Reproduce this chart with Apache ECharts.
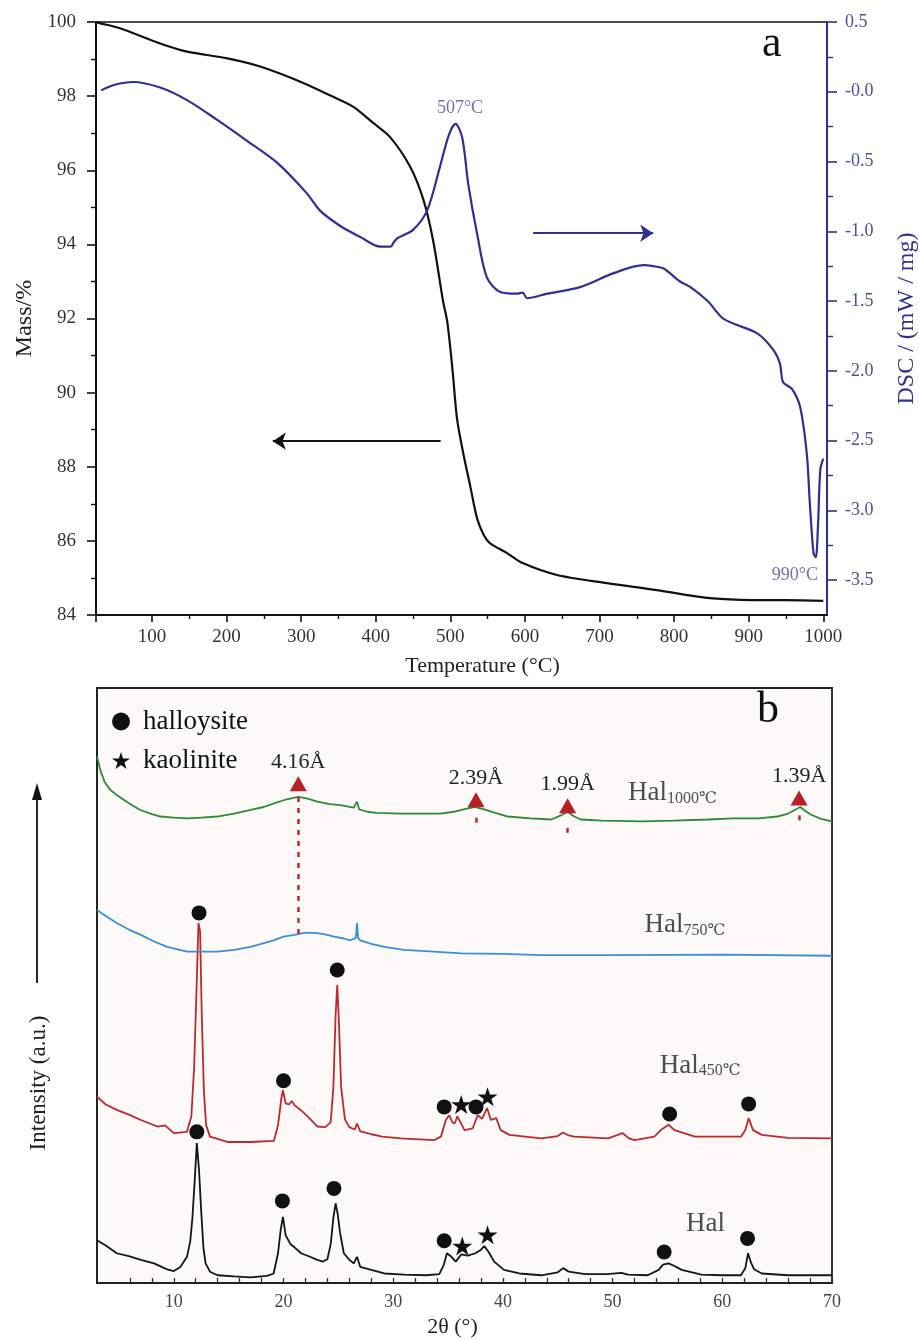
<!DOCTYPE html>
<html>
<head>
<meta charset="utf-8">
<title>TG-DSC and XRD of halloysite</title>
<script src="https://cdn.jsdelivr.net/npm/echarts@6/dist/echarts.min.js"></script>
<style>
  html, body { margin: 0; padding: 0; background: #fff; }
  #chart { width: 919px; height: 1339px; }
</style>
</head>
<body>
<div id="chart"></div>
<script>
const serif = '"Liberation Serif", "DejaVu Serif", serif'

// ---- panel a : TG / DSC ----
const tgTemp = [25, 30, 57, 111, 147, 201, 245, 299, 343, 370, 397, 419, 446, 464, 477, 490, 496, 503, 509, 517, 527, 536, 545, 553, 576, 597, 643, 710, 777, 844, 889, 950, 1000]
const tgMass = [100, 99.97, 99.83, 99.42, 99.2, 99.02, 98.8, 98.39, 97.98, 97.71, 97.27, 96.9, 96.1, 95.2, 94.1, 92.5, 91.9, 90.6, 89.3, 88.4, 87.45, 86.6, 86.15, 85.94, 85.67, 85.4, 85.08, 84.86, 84.67, 84.46, 84.41, 84.4, 84.38]

const dscTemp = [32, 50, 75, 111, 147, 187, 227, 268, 308, 325, 352, 379, 406, 420, 424, 429, 450, 469, 486, 498, 507, 516, 524, 536, 549, 567, 589, 597, 603, 630, 674, 719, 759, 772, 786, 808, 822, 845, 867, 911, 933, 942, 946, 958, 969, 978, 982, 987, 990, 993, 996, 1000]
const dscVal = [0.01, 0.05, 0.07, 0.03, -0.06, -0.2, -0.35, -0.51, -0.73, -0.85, -0.96, -1.04, -1.11, -1.11, -1.08, -1.05, -0.99, -0.85, -0.54, -0.31, -0.23, -0.33, -0.66, -1.02, -1.33, -1.435, -1.447, -1.44, -1.48, -1.447, -1.4, -1.3, -1.243, -1.25, -1.267, -1.36, -1.4, -1.5, -1.63, -1.73, -1.85, -1.95, -2.08, -2.13, -2.26, -2.6, -2.95, -3.31, -3.335, -3.1, -2.71, -2.63]

const tempTicks = [25, 100, 200, 300, 400, 500, 600, 700, 800, 900, 1000]
const tempLabels = [100, 200, 300, 400, 500, 600, 700, 800, 900, 1000]
const tempMinor = [150, 250, 350, 450, 550, 650, 750, 850, 950]
const dscTicks = [-3.5, -3, -2.5, -2, -1.5, -1, -0.5, 0, 0.5]
const dscMinor = [-3.25, -2.75, -2.25, -1.75, -1.25, -0.75, -0.25, 0.25]

const peakNotes = [[513, -0.117, '507°C'], [962, -3.467, '990°C']]

// ---- panel b : XRD ----
const halX = [3.0, 3.8, 4.8, 5.9, 7.0, 8.2, 9.4, 10.0, 10.6, 11.2, 11.5, 11.7, 11.9, 12.1, 12.3, 12.5, 12.7, 12.9, 13.3, 14.0, 15.5, 17.0, 18.5, 19.1, 19.5, 19.75, 19.95, 20.2, 20.65, 21.0, 21.6, 22.3, 23.1, 23.6, 24.0, 24.3, 24.55, 24.75, 24.95, 25.15, 25.5, 26.0, 26.4, 26.7, 27.0, 28.0, 29.2, 31.0, 33.0, 34.2, 34.6, 34.9, 35.25, 35.7, 36.2, 36.8, 37.5, 38.0, 38.3, 38.7, 39.2, 40.1, 41.5, 43.5, 45.0, 45.5, 46.0, 47.5, 49.5, 50.8, 51.4, 53.2, 54.2, 54.6, 55.1, 55.6, 56.3, 58.1, 60.0, 61.7, 62.1, 62.35, 62.6, 62.9, 63.6, 66.0, 68.0, 70.0]
const halY = [7.2, 6.3, 5.0, 4.5, 3.9, 3.3, 2.3, 2.0, 2.7, 4.4, 7.0, 11.0, 17.0, 23.5, 19.0, 12.0, 6.0, 3.3, 1.9, 1.3, 1.1, 0.95, 1.2, 1.6, 5.0, 9.0, 11.1, 8.0, 6.5, 6.0, 5.0, 4.5, 3.9, 3.6, 4.0, 6.5, 11.0, 13.4, 11.5, 8.5, 5.0, 3.9, 3.3, 4.4, 2.7, 2.2, 1.6, 1.4, 1.3, 1.5, 3.0, 5.0, 4.5, 3.6, 4.8, 4.6, 5.0, 5.6, 6.2, 5.2, 3.6, 2.2, 1.6, 1.3, 1.8, 2.5, 1.9, 1.5, 1.5, 1.7, 1.4, 1.3, 2.2, 3.1, 3.3, 2.9, 2.2, 1.4, 1.3, 1.3, 2.5, 5.0, 3.5, 2.3, 1.6, 1.3, 1.3, 1.3]

const hal450X = [3.0, 3.8, 4.8, 5.9, 7.0, 8.5, 9.2, 10.0, 11.2, 11.6, 11.85, 12.05, 12.25, 12.4, 12.55, 12.75, 12.95, 13.3, 14.9, 17.0, 19.13, 19.5, 19.8, 19.95, 20.2, 20.5, 20.75, 21.0, 21.6, 22.2, 23.1, 23.8, 24.3, 24.55, 24.75, 24.9, 25.05, 25.25, 25.6, 26.0, 26.5, 26.7, 27.0, 27.65, 28.0, 29.0, 30.7, 33.7, 34.35, 34.8, 35.1, 35.4, 35.6, 35.85, 36.0, 36.5, 37.25, 37.7, 38.1, 38.56, 38.9, 39.4, 39.8, 40.6, 43.5, 45.0, 45.47, 46.0, 46.5, 49.6, 50.9, 51.5, 52.0, 53.8, 54.4, 55.1, 55.65, 57.5, 61.7, 62.1, 62.4, 62.8, 63.6, 66.0, 70.0]
const hal450Y = [31.3, 30.0, 29.1, 28.3, 27.4, 26.3, 26.5, 25.2, 25.4, 28.0, 36.0, 48.0, 60.5, 59.0, 45.0, 32.0, 26.5, 24.6, 23.7, 23.7, 23.9, 26.5, 31.0, 32.4, 30.2, 30.0, 30.6, 29.9, 29.0, 28.0, 26.3, 26.2, 27.0, 33.0, 45.0, 50.1, 44.0, 33.0, 27.5, 26.2, 25.8, 26.8, 25.5, 25.2, 25.0, 24.6, 24.3, 24.0, 24.6, 27.4, 28.2, 27.0, 26.8, 28.0, 28.2, 25.7, 26.0, 28.2, 27.6, 29.4, 27.4, 27.7, 25.7, 24.9, 24.3, 24.7, 25.3, 24.8, 24.6, 24.3, 25.2, 24.3, 24.0, 24.6, 25.7, 26.6, 25.7, 24.6, 24.6, 25.7, 27.7, 25.7, 24.9, 24.4, 24.3]

const hal750X = [3.0, 3.8, 4.8, 5.9, 7.0, 8.2, 9.4, 11.2, 13.96, 15.5, 17.0, 19.1, 20.0, 21.0, 22.0, 23.1, 24.0, 24.6, 25.5, 26.1, 26.6, 26.7, 26.8, 27.0, 28.0, 29.2, 31.0, 33.7, 36.2, 40.0, 43.5, 50.0, 60.0, 70.0]
const hal750Y = [62.7, 61.7, 60.5, 59.4, 58.5, 57.4, 56.5, 55.7, 55.7, 56.0, 56.5, 57.6, 58.2, 58.5, 58.9, 58.8, 58.5, 58.2, 57.9, 57.6, 58.0, 60.5, 58.0, 57.6, 57.0, 56.5, 56.0, 55.7, 55.4, 55.3, 55.1, 55.1, 55.2, 55.0]

const hal1000X = [3.0, 3.3, 3.7, 4.2, 4.8, 5.43, 6.2, 6.95, 8.0, 8.8, 10.0, 11.2, 12.5, 13.96, 15.5, 17.0, 18.2, 19.13, 20.3, 21.35, 22.2, 23.1, 24.2, 25.2, 26.4, 26.7, 26.9, 27.65, 28.5, 30.7, 34.3, 35.5, 36.6, 37.4, 38.3, 39.3, 40.45, 42.5, 44.4, 45.3, 45.9, 46.5, 47.1, 49.0, 52.6, 55.5, 58.7, 61.0, 63.3, 65.0, 66.0, 66.6, 67.1, 67.6, 68.1, 69.0, 70.0]
const hal1000Y = [88.5, 86.2, 84.2, 82.9, 82.0, 81.2, 80.3, 79.5, 78.8, 78.4, 78.2, 78.1, 78.2, 78.4, 78.9, 79.5, 80.0, 80.6, 81.3, 81.7, 81.4, 80.9, 80.5, 80.3, 79.9, 80.9, 79.6, 79.2, 79.0, 78.9, 78.9, 79.2, 79.7, 80.0, 79.6, 79.0, 78.4, 78.1, 77.9, 78.6, 79.2, 78.4, 77.9, 77.7, 77.6, 77.7, 77.9, 78.1, 78.1, 78.4, 78.9, 79.5, 80.0, 79.3, 78.7, 78.0, 77.6]

// phase markers [2θ, height]
const halloysiteDots = [[12.1, 25.4], [19.9, 13.8], [24.6, 15.9], [34.65, 7.1], [54.7, 5.2], [62.3, 7.5],
  [12.3, 62.2], [20.0, 34.0], [24.9, 52.6], [34.65, 29.6], [37.55, 29.6], [55.2, 28.4], [62.4, 30.1]]
const kaoliniteStars = [[36.3, 6.2], [38.6, 8.1], [36.2, 30.0], [38.6, 31.3]]
const dSpacing = [[21.35, 83.9, '4.16Å'], [37.55, 81.2, '2.39Å'], [45.9, 80.2, '1.99Å'], [67.0, 81.5, '1.39Å']]
const dropLines = [[21.35, 81.7, 58.5], [37.55, 78.2, 76.5], [45.9, 76.5, 74.8], [67.0, 78.6, 76.8]]
const sampleNames = [[51.4, 82.35, '1000℃'], [52.9, 60.1, '750℃'], [54.3, 36.55, '450℃'], [56.7, 9.9, '']]

const xrdTicks = [6, 8, 10, 12, 14, 16, 18, 20, 22, 24, 26, 28, 30, 32, 34, 36, 38, 40, 42, 44, 46, 48, 50, 52, 54, 56, 58, 60, 62, 64, 66, 68, 70]
const xrdLabels = [10, 20, 30, 40, 50, 60, 70]

const zip = (xs, ys) => xs.map((x, i) => [x, ys[i]])
const starPath = 'path://M50 0 L61.2 34.5 L97.6 34.5 L68.2 55.9 L79.4 90.5 L50 69.1 L20.6 90.5 L31.8 55.9 L2.4 34.5 L38.8 34.5 Z'
const navy = '#2e3192'
const navyText = '#4b4f9e'

const chart = echarts.init(document.getElementById('chart'), null, { renderer: 'canvas' })

chart.setOption({
  animation: false,
  backgroundColor: '#fff',
  textStyle: { fontFamily: serif },
  grid: [
    { left: 96, top: 22, width: 731, height: 593, outerBoundsMode: 'none', show: true, borderColor: '#111', borderWidth: 1.6, backgroundColor: '#fff' },
    { left: 97, top: 688, width: 735, height: 595, outerBoundsMode: 'none', show: true, borderColor: '#222', borderWidth: 1.8, backgroundColor: '#fcf9f8' }
  ],
  legend: {
    data: ['halloysite', 'kaolinite'],
    orient: 'vertical',
    left: 107,
    top: 703,
    itemWidth: 18,
    itemHeight: 18,
    itemGap: 12,
    textStyle: { fontFamily: serif, fontSize: 27, color: '#111', padding: [0, 0, 0, 8] }
  },
  xAxis: [{
    gridIndex: 0,
    type: 'value',
    position: 'bottom',
    min: 25,
    max: 1005,
    name: 'Temperature (°C)',
    nameLocation: 'middle',
    nameGap: 40,
    nameTextStyle: { fontFamily: serif, fontSize: 22, color: '#222', padding: [0, 0, 0, 42] },
    axisLine: { onZero: false, lineStyle: { color: '#111', width: 2 } },
    axisTick: { customValues: tempTicks, length: 7, lineStyle: { color: '#111', width: 1.6 } },
    axisLabel: { customValues: tempLabels, margin: 13, fontSize: 19, color: '#333', fontFamily: serif, formatter: v => String(v) },
    splitLine: { show: false }
  }, {
    gridIndex: 0,
    type: 'value',
    position: 'bottom',
    min: 25,
    max: 1005,
    axisLine: { show: false, onZero: false },
    axisTick: { customValues: tempMinor, length: 4, lineStyle: { color: '#111', width: 1.4 } },
    axisLabel: { show: false },
    splitLine: { show: false }
  }, {
    gridIndex: 1,
    type: 'value',
    position: 'bottom',
    min: 3,
    max: 70,
    name: '2θ (°)',
    nameLocation: 'middle',
    nameGap: 33,
    nameTextStyle: { fontFamily: serif, fontSize: 22, color: '#222', padding: [0, 24, 0, 0] },
    axisLine: { onZero: false, lineStyle: { color: '#222', width: 1.8 } },
    axisTick: { customValues: xrdTicks, inside: true, length: 5, lineStyle: { color: '#333', width: 1.3 } },
    axisLabel: { customValues: xrdLabels, margin: 10, fontSize: 18, color: '#444', fontFamily: serif },
    splitLine: { show: false }
  }],
  yAxis: [{
    gridIndex: 0,
    type: 'value',
    position: 'left',
    min: 84,
    max: 100,
    interval: 2,
    name: 'Mass/%',
    nameLocation: 'middle',
    nameGap: 58,
    nameTextStyle: { fontFamily: serif, fontSize: 24, color: '#222' },
    axisLine: { onZero: false, lineStyle: { color: '#111', width: 2 } },
    axisTick: { length: 9, lineStyle: { color: '#111', width: 1.6 } },
    minorTick: { show: true, splitNumber: 2, length: 5, lineStyle: { color: '#111', width: 1.4 } },
    axisLabel: { margin: 20, fontSize: 19, color: '#333', fontFamily: serif },
    splitLine: { show: false }
  }, {
    gridIndex: 0,
    type: 'value',
    position: 'right',
    min: -3.75,
    max: 0.5,
    name: 'DSC / (mW / mg)',
    nameLocation: 'middle',
    nameGap: 68,
    nameTextStyle: { fontFamily: serif, fontSize: 24, color: navy },
    axisLine: { onZero: false, lineStyle: { color: navy, width: 2 } },
    axisTick: { customValues: dscTicks, length: 10, lineStyle: { color: navy, width: 1.6 } },
    axisLabel: {
      customValues: dscTicks,
      margin: 18,
      fontSize: 18,
      color: navyText,
      fontFamily: serif,
      formatter: v => (Math.abs(v) < 1e-9 ? '-0.0' : v.toFixed(1))
    },
    splitLine: { show: false }
  }, {
    gridIndex: 0,
    type: 'value',
    position: 'right',
    min: -3.75,
    max: 0.5,
    axisLine: { show: false, onZero: false },
    axisTick: { customValues: dscMinor, length: 6, lineStyle: { color: navy, width: 1.4 } },
    axisLabel: { show: false },
    splitLine: { show: false }
  }, {
    gridIndex: 1,
    type: 'value',
    min: 0,
    max: 100,
    axisLine: { show: true, onZero: false, lineStyle: { color: '#222', width: 1.8 } },
    axisTick: { show: false },
    axisLabel: { show: false },
    splitLine: { show: false }
  }],
  series: [{
    name: 'TG',
    type: 'line',
    xAxisIndex: 0,
    yAxisIndex: 0,
    data: zip(tgTemp, tgMass),
    showSymbol: false,
    smooth: 0.3,
    lineStyle: { color: '#111', width: 2.2 },
    markLine: {
      silent: true,
      symbol: ['none', 'arrow'],
      symbolSize: 13,
      label: { show: false },
      lineStyle: { color: '#111', width: 1.8, type: 'solid' },
      data: [[{ coord: [487, 88.69] }, { coord: [262, 88.69] }]]
    }
  }, {
    name: 'DSC',
    type: 'line',
    xAxisIndex: 0,
    yAxisIndex: 1,
    data: zip(dscTemp, dscVal),
    showSymbol: false,
    smooth: 0.3,
    lineStyle: { color: navy, width: 2.2 },
    markLine: {
      silent: true,
      symbol: ['none', 'arrow'],
      symbolSize: 13,
      label: { show: false },
      lineStyle: { color: navy, width: 1.8, type: 'solid' },
      data: [[{ coord: [611, -1.014] }, { coord: [772, -1.014] }]]
    }
  }, {
    name: 'peaks',
    type: 'scatter',
    xAxisIndex: 0,
    yAxisIndex: 1,
    data: peakNotes,
    symbolSize: 0,
    silent: true,
    label: { show: true, position: 'inside', formatter: p => p.data[2], fontSize: 18, color: navyText, fontFamily: serif }
  }, {
    name: 'Hal',
    type: 'line',
    xAxisIndex: 2,
    yAxisIndex: 3,
    data: zip(halX, halY),
    showSymbol: false,
    lineStyle: { color: '#151515', width: 1.8 }
  }, {
    name: 'Hal450',
    type: 'line',
    xAxisIndex: 2,
    yAxisIndex: 3,
    data: zip(hal450X, hal450Y),
    showSymbol: false,
    lineStyle: { color: '#bd2a2e', width: 1.8 }
  }, {
    name: 'Hal750',
    type: 'line',
    xAxisIndex: 2,
    yAxisIndex: 3,
    data: zip(hal750X, hal750Y),
    showSymbol: false,
    lineStyle: { color: '#3a8edb', width: 1.8 }
  }, {
    name: 'Hal1000',
    type: 'line',
    xAxisIndex: 2,
    yAxisIndex: 3,
    data: zip(hal1000X, hal1000Y),
    showSymbol: false,
    lineStyle: { color: '#2f8a37', width: 1.8 }
  }, {
    name: 'halloysite',
    type: 'scatter',
    xAxisIndex: 2,
    yAxisIndex: 3,
    data: halloysiteDots,
    symbol: 'circle',
    symbolSize: 15,
    itemStyle: { color: '#111', opacity: 1 },
    z: 5
  }, {
    name: 'kaolinite',
    type: 'scatter',
    xAxisIndex: 2,
    yAxisIndex: 3,
    data: kaoliniteStars,
    symbol: starPath,
    symbolKeepAspect: true,
    symbolSize: 20,
    itemStyle: { color: '#111', opacity: 1 },
    z: 5
  }, {
    name: 'd-spacing',
    type: 'scatter',
    xAxisIndex: 2,
    yAxisIndex: 3,
    data: dSpacing,
    symbol: 'triangle',
    symbolSize: [17, 15],
    itemStyle: { color: '#b81f26', opacity: 1 },
    label: { show: true, position: 'top', distance: 3, formatter: p => p.data[2], fontSize: 22, color: '#222', fontFamily: serif },
    markLine: {
      silent: true,
      symbol: ['none', 'none'],
      label: { show: false },
      lineStyle: { color: '#c0282b', width: 2.5, type: [5, 6] },
      data: dropLines.map(d => [{ coord: [d[0], d[1]] }, { coord: [d[0], d[2]] }])
    },
    z: 5
  }, {
    name: 'samples',
    type: 'scatter',
    xAxisIndex: 2,
    yAxisIndex: 3,
    data: sampleNames,
    symbolSize: 0,
    silent: true,
    label: {
      show: true,
      position: 'right',
      distance: 0,
      formatter: p => (p.data[2] ? '{a|Hal}{s|' + p.data[2] + '}' : '{a|Hal}'),
      rich: {
        a: { fontFamily: serif, fontSize: 27, lineHeight: 27, verticalAlign: 'top', color: '#222' },
        s: { fontFamily: serif, fontSize: 16, lineHeight: 16, padding: [17, 0, 0, 0], verticalAlign: 'bottom', color: '#222' }
      }
    }
  }],
  graphic: [
    { type: 'text', left: 762, top: 22, style: { text: 'a', font: '44px ' + serif, fill: '#111' } },
    { type: 'text', left: 757, top: 688, style: { text: 'b', font: '44px ' + serif, fill: '#111' } },
    {
      type: 'text',
      x: 39,
      y: 1083,
      rotation: Math.PI / 2,
      style: { text: 'Intensity (a.u.)', font: '23px ' + serif, fill: '#222', align: 'center', verticalAlign: 'middle' }
    },
    { type: 'line', shape: { x1: 37, y1: 983, x2: 37, y2: 798 }, style: { stroke: '#111', lineWidth: 1.8 } },
    { type: 'polygon', shape: { points: [[37, 783], [32, 800], [42, 800]] }, style: { fill: '#111' } }
  ]
})
</script>
</body>
</html>
